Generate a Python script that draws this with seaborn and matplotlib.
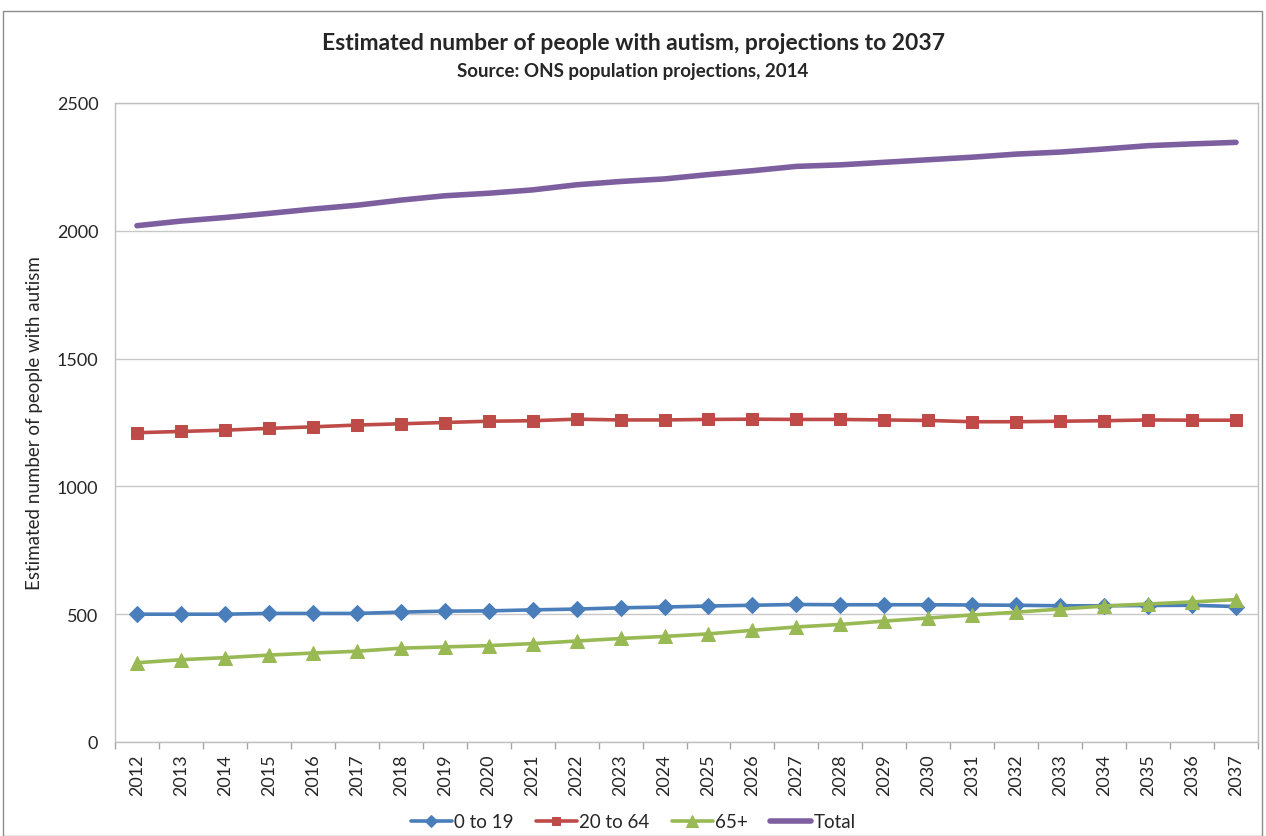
import matplotlib
matplotlib.use("Agg")
import matplotlib.pyplot as plt
from matplotlib.patches import Rectangle
from matplotlib.ticker import FixedLocator
import pandas as pd
import seaborn as sns

years = list(range(2012, 2038))

age_0_19 = [500, 500, 500, 503, 503, 503, 508, 512, 513, 517, 520, 525, 528,
            532, 535, 538, 537, 537, 537, 536, 535, 533, 533, 534, 535, 530]
age_20_64 = [1210, 1215, 1220, 1227, 1233, 1240, 1245, 1250, 1255, 1257, 1263, 1260, 1260,
             1262, 1263, 1262, 1262, 1260, 1258, 1253, 1253, 1255, 1257, 1260, 1259, 1259]
age_65_plus = [310, 322, 330, 340, 348, 355, 367, 372, 377, 385, 395, 405, 413,
               423, 437, 450, 460, 473, 485, 497, 508, 520, 532, 540, 548, 557]
total = [2020, 2038, 2052, 2068, 2085, 2100, 2120, 2137, 2147, 2160, 2180, 2193, 2203,
         2220, 2235, 2252, 2258, 2268, 2278, 2288, 2300, 2308, 2320, 2333, 2340, 2346]

series_names = ["0 to 19", "20 to 64", "65+", "Total"]
series_values = [age_0_19, age_20_64, age_65_plus, total]
colors = ["#4A7EBB", "#BE4B48", "#98B954", "#7D5FA0"]
markers = ["D", "s", "^", None]
marker_sizes = [8, 8, 10, 0]
line_widths = [2.6, 2.6, 2.6, 4.0]

title = "Estimated number of people with autism, projections to 2037"
subtitle = "Source: ONS population projections, 2014"
y_label = "Estimated number of people with autism"

sns.set_theme(style="white")
plt.rcParams["font.family"] = ["Lato", "DejaVu Sans"]

fig = plt.figure(figsize=(12.66, 8.37), dpi=100)
ax = fig.add_axes([115 / 1266, 1 - 743 / 837, (1258 - 115) / 1266, (743 - 104) / 837])

# outer chart border
fig.patches.append(Rectangle((3 / 1266, 0.0), 1259 / 1266, 1 - 12 / 837,
                             transform=fig.transFigure, fill=False,
                             edgecolor="#8C8C8C", linewidth=1.0))

for name, vals, col, mk, ms, lw in zip(series_names, series_values, colors,
                                        markers, marker_sizes, line_widths):
    df = pd.DataFrame({"year": years, "value": vals})
    sns.lineplot(data=df, x="year", y="value", ax=ax, color=col, marker=mk,
                 markersize=ms, markeredgecolor=col, linewidth=lw, label=name,
                 solid_capstyle="round")

ax.set_xlim(years[0] - 0.5, years[-1] + 0.5)
ax.set_ylim(0, 2500)
ax.set_xticks(years)
ax.set_xticklabels([str(y) for y in years], rotation=90, fontsize=13)
ax.xaxis.set_minor_locator(FixedLocator([y + 0.5 for y in [years[0] - 1] + years]))
ax.tick_params(axis="x", which="major", length=0, pad=8)
ax.tick_params(axis="x", which="minor", length=5, color="#A6A6A6", width=1, bottom=True)
ax.set_yticks(range(0, 2501, 500))
ax.tick_params(axis="y", labelsize=13, length=0, pad=12)
ax.yaxis.grid(True, color="#C8C8C8", linewidth=1)
ax.xaxis.grid(False)
ax.set_xlabel("")
ax.set_ylabel(y_label, fontsize=13.5, labelpad=10)
for side in ["left", "bottom", "top", "right"]:
    ax.spines[side].set_visible(True)
    ax.spines[side].set_color("#BFBFBF")
    ax.spines[side].set_linewidth(1)

fig.text(0.5, 1 - 44 / 837, title, ha="center", va="center", fontsize=16.5,
         fontweight="bold", fontstretch="condensed")
fig.text(0.5, 1 - 71 / 837, subtitle, ha="center", va="center", fontsize=13.5,
         fontweight="bold")

handles, labels = ax.get_legend_handles_labels()
ax.legend_.remove()
fig.legend(handles, labels, loc="center", bbox_to_anchor=(0.5, 1 - 823 / 837), ncol=4,
           frameon=False, fontsize=13.5, handlelength=2.2, handletextpad=0.1,
           columnspacing=1.2, markerscale=0.8)

fig.savefig("out.png", dpi=100)
